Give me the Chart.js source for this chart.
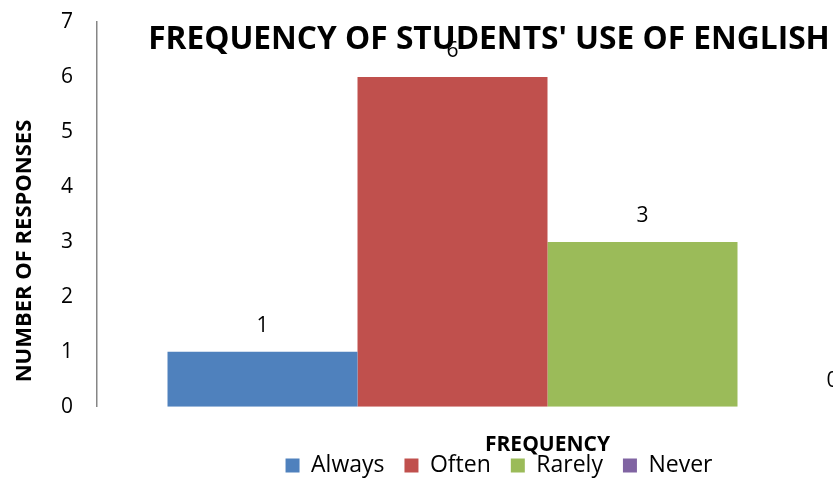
<!DOCTYPE html>
<html>
<head>
<meta charset="utf-8">
<script src="https://cdn.jsdelivr.net/npm/chart.js@4/dist/chart.umd.min.js"></script>
<style>
  html, body { margin: 0; padding: 0; background: #fff; overflow: hidden; }
  #wrap { width: 1000px; height: 479px; }
</style>
</head>
<body>
<div id="wrap"><canvas id="chart" width="1000" height="479"></canvas></div>
<script>
// single category, one series per answer
const categories = ['FREQUENCY'];
const seriesNames = ['Always', 'Often', 'Rarely', 'Never'];
const seriesValues = [[1], [6], [3], [0]];
const seriesColors = ['#4F81BD', '#C0504D', '#9BBB59', '#8064A2'];
const yTicks = [0, 1, 2, 3, 4, 5, 6, 7];

const FONT = "'Open Sans', sans-serif";

// value labels above each bar
const barLabels = {
  id: 'barLabels',
  afterDatasetsDraw(chart){
    const ctx = chart.ctx;
    ctx.save();
    ctx.font = '21px ' + FONT;
    ctx.fillStyle = '#000';
    ctx.textAlign = 'center';
    ctx.textBaseline = 'middle';
    chart.data.datasets.forEach((ds, i) => {
      chart.getDatasetMeta(i).data.forEach((bar, j) => {
        ctx.fillText(String(ds.data[j]), bar.x, bar.y - 26);
      });
    });
    ctx.restore();
  }
};

// chart title and y title are placed by hand (the title overlaps the plot)
const handTitles = {
  id: 'handTitles',
  afterDraw(chart){
    const ctx = chart.ctx;
    ctx.save();
    ctx.fillStyle = '#000';
    ctx.textAlign = 'center';
    ctx.textBaseline = 'middle';
    ctx.font = 'bold 31.7px ' + FONT;
    ctx.fillText("FREQUENCY OF STUDENTS' USE OF ENGLISH", 489, 40);
    ctx.translate(25, 251);
    ctx.rotate(-Math.PI / 2);
    ctx.font = 'bold 22px ' + FONT;
    ctx.fillText('NUMBER OF RESPONSES', 0, 0);
    ctx.restore();
  }
};

new Chart(document.getElementById('chart').getContext('2d'), {
  type: 'bar',
  data: {
    labels: categories,
    datasets: seriesNames.map((name, i) => ({
      label: name,
      data: seriesValues[i],
      backgroundColor: seriesColors[i],
      borderWidth: 0,
      categoryPercentage: 0.8435,
      barPercentage: 1
    }))
  },
  options: {
    responsive: false,
    animation: false,
    devicePixelRatio: 1,
    layout: { padding: { top: 0, right: 2, bottom: 0, left: 0 } },
    plugins: {
      legend: {
        position: 'bottom',
        maxHeight: 45,
        labels: {
          boxWidth: 14, boxHeight: 14, padding: 20,
          color: '#000',
          font: { family: FONT, size: 23 }
        }
      },
      title: { display: false },
      tooltip: { enabled: false }
    },
    scales: {
      x: {
        grid: { display: false },
        border: { display: false },
        ticks: { display: false },
        title: {
          display: true, text: 'FREQUENCY', color: '#000',
          font: { family: FONT, size: 21, weight: 'bold' },
          padding: { top: 18, bottom: -24 }
        }
      },
      y: {
        min: 0, max: 7,
        afterBuildTicks(axis){ axis.ticks = yTicks.map(v => ({ value: v })); },
        // room on the left for the hand-drawn title, tight top/bottom
        afterFit(axis){ axis.width += 37; axis.paddingTop = 22; axis.paddingBottom = 12; },
        grid: { display: false, drawTicks: false },
        border: { display: true, color: '#868686', width: 1.5 },
        ticks: { color: '#000', padding: 24, font: { family: FONT, size: 21 } }
      }
    }
  },
  plugins: [barLabels, handTitles]
});
</script>
</body>
</html>
